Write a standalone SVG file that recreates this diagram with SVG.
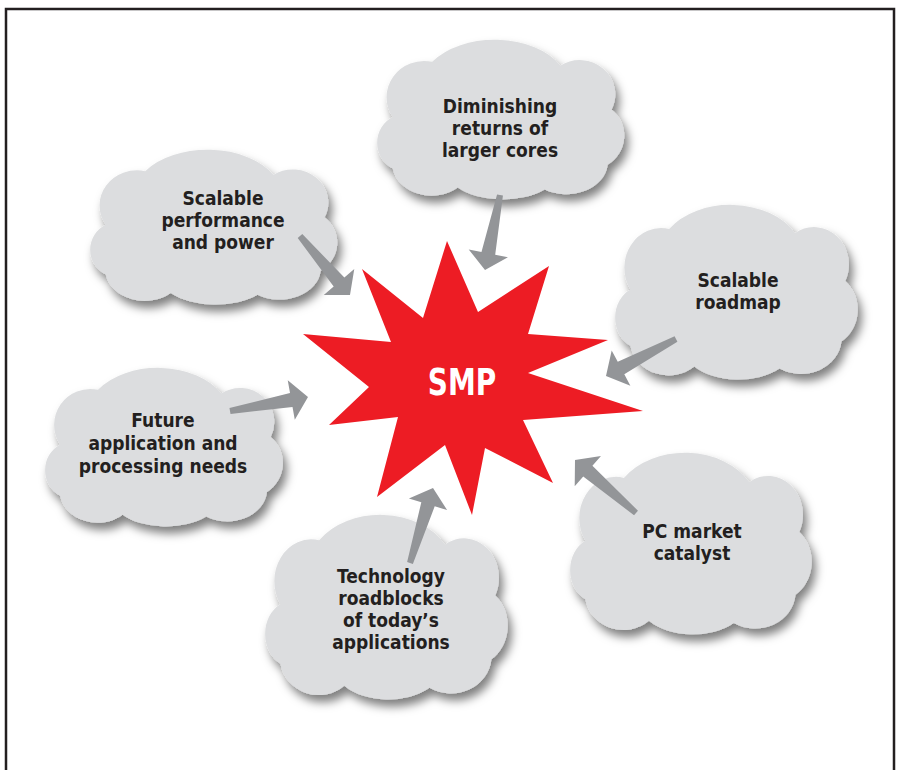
<svg xmlns="http://www.w3.org/2000/svg" width="900" height="770" viewBox="0 0 900 770">
<defs>
<filter id="sh" x="-20%" y="-20%" width="150%" height="150%">
<feDropShadow dx="4" dy="7" stdDeviation="5" flood-color="#000" flood-opacity="0.5"/>
</filter>
<path id="cloud" d="M 18,88 A 38 38 0 0 1 58,30 A 75 50 0 0 1 188,34 A 36 36 0 0 1 240,80 A 36 36 0 0 1 236,138 A 42 34 0 0 1 172,164 A 56 30 0 0 1 84,162 A 40 34 0 0 1 18,142 A 28 30 0 0 1 18,88 Z"/>
</defs>
<style>
.cl{fill:#dcdddf}
.t{font-family:"DejaVu Sans Condensed","Liberation Sans",sans-serif;font-weight:bold;font-size:19px;fill:#231f20;text-anchor:middle}
.ar{fill:#939598}
.smp{font-family:"DejaVu Sans Condensed","Liberation Sans",sans-serif;font-weight:bold;font-size:37px;fill:#fff;text-anchor:middle}
</style>
<rect width="900" height="770" fill="#fff"/>
<path d="M6,772 V9 H894 V772" fill="none" stroke="#231f20" stroke-width="2.5"/>

<g id="cloud-diminishing">
<g filter="url(#sh)"><use href="#cloud" class="cl" transform="translate(375,33.3) scale(0.986,0.952)"/></g>
<text class="t"><tspan x="500" y="113">Diminishing</tspan><tspan x="500" y="135">returns of</tspan><tspan x="500" y="157">larger cores</tspan></text>
</g>
<g id="cloud-scalable-performance">
<g filter="url(#sh)"><use href="#cloud" class="cl" transform="translate(88,143.5) scale(0.986,0.923)"/></g>
<text class="t"><tspan x="223" y="205">Scalable</tspan><tspan x="223" y="227">performance</tspan><tspan x="223" y="249">and power</tspan></text>
</g>
<g id="cloud-roadmap">
<g filter="url(#sh)"><use href="#cloud" class="cl" transform="translate(613,197.7) scale(0.968,1.042)"/></g>
<text class="t"><tspan x="738" y="287">Scalable</tspan><tspan x="738" y="309">roadmap</tspan></text>
</g>
<g id="cloud-future">
<g filter="url(#sh)"><use href="#cloud" class="cl" transform="translate(43,361.4) scale(0.949,0.946)"/></g>
<text class="t"><tspan x="163" y="427">Future</tspan><tspan x="163" y="450">application and</tspan><tspan x="163" y="473">processing needs</tspan></text>
</g>
<g id="cloud-technology">
<g filter="url(#sh)"><use href="#cloud" class="cl" transform="translate(263,507.3) scale(0.968,1.101)"/></g>
<text class="t"><tspan x="391" y="583">Technology</tspan><tspan x="391" y="605">roadblocks</tspan><tspan x="391" y="627">of today’s</tspan><tspan x="391" y="649">applications</tspan></text>
</g>
<g id="cloud-pc-market">
<g filter="url(#sh)"><use href="#cloud" class="cl" transform="translate(568,445.4) scale(0.964,1.083)"/></g>
<text class="t"><tspan x="692" y="538">PC market</tspan><tspan x="692" y="560">catalyst</tspan></text>
</g>

<g id="smp">
<polygon fill="#ed1c24" points="447,241 478,312 549,266 528,334 608,340 528,373 643,411 523,420 553,483 485,448 472,515 445,445 377,497 398,417 329,425 369,387 303,334 391,342 362,269 423,318"/>
<text class="smp" transform="translate(462,395) scale(0.84,1)" x="0" y="0">SMP</text>
</g>

<g id="connectors">
<polygon class="ar" points="497.06,194.41 481.47,251.96 468.72,249.41 485,270 507.94,257.25 495.19,254.70 502.94,195.59"/>
<polygon class="ar" points="297.71,237.94 333.67,286.56 323.75,294.96 350,295 354.27,269.10 344.35,277.50 302.29,234.06"/>
<polygon class="ar" points="674.60,336.35 617.76,361.87 611.68,350.38 606,376 630.38,385.74 624.30,374.25 677.40,341.65"/>
<polygon class="ar" points="230.53,413.95 292.51,406.89 294.80,419.69 308,397 287.74,380.31 290.03,393.11 229.47,408.05"/>
<polygon class="ar" points="412.87,563.88 434.71,506.30 447.14,510.11 433,488 408.90,498.39 421.33,502.20 407.13,562.12"/>
<polygon class="ar" points="637.97,510.74 592.42,465.87 600.95,456.05 575,460 574.71,486.25 583.24,476.43 634.03,515.26"/>
</g>
</svg>
